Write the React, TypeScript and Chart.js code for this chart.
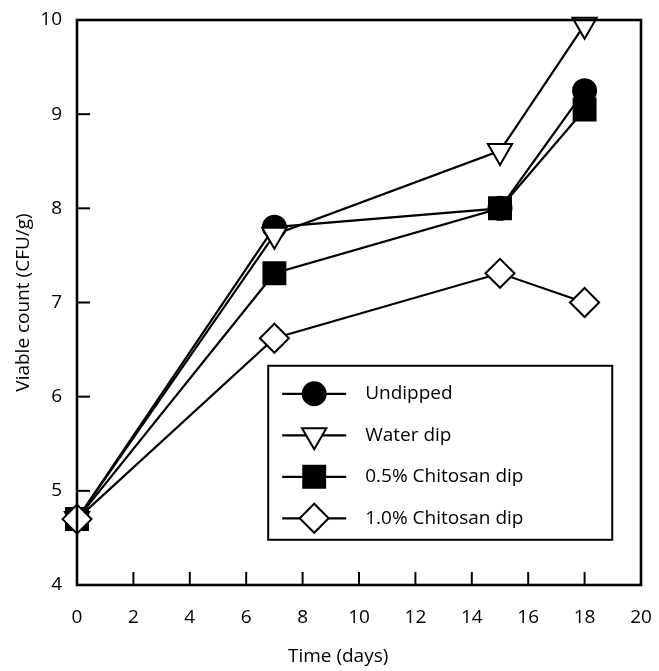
import React, { useEffect, useRef } from "react";
import { Chart, registerables } from "chart.js";

Chart.register(...registerables);

const days = [0, 7, 15, 18];
const undipped = [4.7, 7.8, 8.0, 9.25];
const waterDip = [4.7, 7.72, 8.61, 9.95];
const chitosan05 = [4.7, 7.31, 8.0, 9.05];
const chitosan10 = [4.7, 6.62, 7.31, 7.0];

const seriesLabels = ["Undipped", "Water dip", "0.5% Chitosan dip", "1.0% Chitosan dip"];
const xTickValues = [0, 2, 4, 6, 8, 10, 12, 14, 16, 18, 20];
const yTickValues = [4, 5, 6, 7, 8, 9, 10];
const xTitle = "Time (days)";
const yTitle = "Viable count (CFU/g)";

const FONT = "'Open Sans', 'DejaVu Sans', sans-serif";

type MarkerSpec = { style: string; radius: number; rotation: number; fill: string };
const markers: MarkerSpec[] = [
  { style: "circle", radius: 11.5, rotation: 0, fill: "#000" },
  { style: "triangle", radius: 14, rotation: 180, fill: "#fff" },
  { style: "rect", radius: 15.5, rotation: 0, fill: "#000" },
  { style: "rectRot", radius: 14.5, rotation: 0, fill: "#fff" },
];

function drawMarker(ctx: CanvasRenderingContext2D, m: MarkerSpec, x: number, y: number) {
  ctx.save();
  ctx.beginPath();
  const r = m.radius;
  if (m.style === "circle") {
    ctx.arc(x, y, r, 0, Math.PI * 2);
  } else if (m.style === "triangle") {
    const s = Math.sin(Math.PI / 3) * r;
    ctx.moveTo(x, y + r);
    ctx.lineTo(x - s, y - r / 2);
    ctx.lineTo(x + s, y - r / 2);
    ctx.closePath();
  } else if (m.style === "rect") {
    const h = Math.SQRT1_2 * r;
    ctx.rect(x - h, y - h, 2 * h, 2 * h);
  } else {
    ctx.moveTo(x, y - r);
    ctx.lineTo(x + r, y);
    ctx.lineTo(x, y + r);
    ctx.lineTo(x - r, y);
    ctx.closePath();
  }
  ctx.fillStyle = m.fill;
  ctx.fill();
  ctx.lineWidth = 2;
  ctx.strokeStyle = "#000";
  ctx.stroke();
  ctx.restore();
}

const framePlugin = {
  id: "frameTicks",
  afterDatasetsDraw(chart: any) {
    const { ctx, chartArea, scales } = chart;
    const { left, right, top, bottom } = chartArea;
    ctx.save();
    ctx.strokeStyle = "#000";
    ctx.lineWidth = 2.6;
    ctx.lineCap = "square";
    ctx.strokeRect(left, top, right - left, bottom - top);
    ctx.lineWidth = 2;
    ctx.lineCap = "butt";
    const tl = 13;
    xTickValues.forEach((v) => {
      if (v === xTickValues[0] || v === xTickValues[xTickValues.length - 1]) return;
      const px = scales.x.getPixelForValue(v);
      ctx.beginPath();
      ctx.moveTo(px, bottom);
      ctx.lineTo(px, bottom - tl);
      ctx.stroke();
    });
    yTickValues.forEach((v) => {
      if (v === yTickValues[0] || v === yTickValues[yTickValues.length - 1]) return;
      const py = scales.y.getPixelForValue(v);
      ctx.beginPath();
      ctx.moveTo(left, py);
      ctx.lineTo(left + tl, py);
      ctx.stroke();
    });
    ctx.restore();
  },
  afterDraw(chart: any) {
    const { ctx, chartArea } = chart;
    const { left, top } = chartArea;
    const w = chartArea.right - chartArea.left;
    const h = chartArea.bottom - chartArea.top;
    const bl = left + 0.339 * w;
    const br = left + 0.949 * w;
    const bt = top + 0.612 * h;
    const bb = top + 0.92 * h;
    ctx.save();
    ctx.fillStyle = "#fff";
    ctx.fillRect(bl, bt, br - bl, bb - bt);
    ctx.strokeStyle = "#000";
    ctx.lineWidth = 2;
    ctx.strokeRect(bl, bt, br - bl, bb - bt);
    seriesLabels.forEach((label, i) => {
      const cy = bt + 28 + i * 41.5;
      ctx.beginPath();
      ctx.moveTo(bl + 14, cy);
      ctx.lineTo(bl + 78, cy);
      ctx.lineWidth = 2.2;
      ctx.strokeStyle = "#000";
      ctx.stroke();
      drawMarker(ctx, markers[i], bl + 46, cy);
      ctx.fillStyle = "#000";
      ctx.font = `19px ${FONT}`;
      ctx.textAlign = "left";
      ctx.textBaseline = "middle";
      ctx.fillText(label, bl + 97, cy);
    });
    ctx.font = `19px ${FONT}`;
    ctx.textAlign = "center";
    ctx.textBaseline = "middle";
    ctx.fillStyle = "#000";
    ctx.fillText(xTitle, left + 0.463 * w, 657);
    ctx.restore();
  },
};

export default function App() {
  const canvasRef = useRef<HTMLCanvasElement | null>(null);

  useEffect(() => {
    if (!canvasRef.current) return;
    const series = [undipped, waterDip, chitosan05, chitosan10];
    const chart = new Chart(canvasRef.current, {
      type: "line",
      data: {
        datasets: series.map((vals, i) => ({
          label: seriesLabels[i],
          data: days.map((d, j) => ({ x: d, y: vals[j] })),
          borderColor: "#000",
          borderWidth: 2.2,
          pointStyle: markers[i].style as any,
          pointRadius: markers[i].radius,
          pointRotation: markers[i].rotation,
          pointBackgroundColor: markers[i].fill,
          pointBorderColor: "#000",
          pointBorderWidth: 2,
          tension: 0,
          fill: false,
          clip: false as any,
          order: 4 - i,
        })),
      },
      options: {
        animation: false,
        responsive: true,
        maintainAspectRatio: false,
        layout: { padding: { top: 20, right: 18, left: 0, bottom: 0 } },
        plugins: { legend: { display: false }, tooltip: { enabled: false } },
        events: [],
        scales: {
          x: {
            type: "linear",
            min: 0,
            max: 20,
            afterBuildTicks: (scale: any) => {
              scale.ticks = xTickValues.map((v) => ({ value: v }));
            },
            afterFit: (scale: any) => {
              scale.height = 86;
              scale.paddingRight = 0;
              scale.paddingLeft = 0;
            },
            grid: { display: false, drawTicks: false },
            border: { display: false },
            ticks: {
              color: "#000",
              padding: 21,
              font: { family: FONT, size: 19 },
              maxRotation: 0,
              autoSkip: false,
            },
          },
          y: {
            type: "linear",
            min: 4,
            max: 10,
            afterBuildTicks: (scale: any) => {
              scale.ticks = yTickValues.map((v) => ({ value: v }));
            },
            afterFit: (scale: any) => {
              scale.width = 77;
              scale.paddingTop = 0;
              scale.paddingBottom = 0;
            },
            grid: { display: false, drawTicks: false },
            border: { display: false },
            ticks: {
              color: "#000",
              padding: 15,
              font: { family: FONT, size: 19 },
              autoSkip: false,
            },
            title: {
              display: true,
              text: yTitle,
              color: "#000",
              font: { family: FONT, size: 19 },
              padding: { top: 12.5, bottom: 0 },
            },
          },
        },
      },
      plugins: [framePlugin],
    });
    return () => chart.destroy();
  }, []);

  return (
    <div style={{ position: "absolute", left: 0, top: 0, width: 659, height: 671, background: "#fff" }}>
      <canvas ref={canvasRef} />
    </div>
  );
}
